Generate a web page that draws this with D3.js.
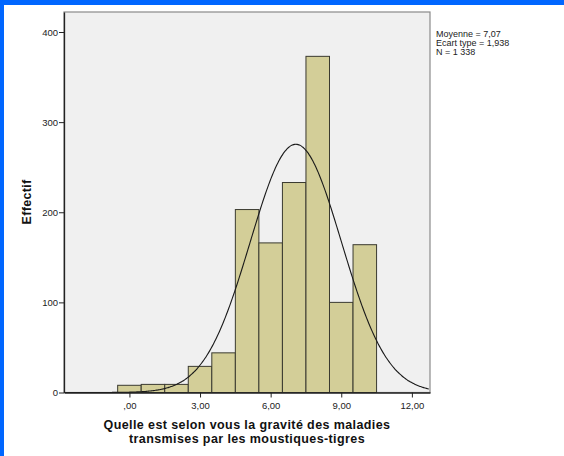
<!DOCTYPE html>
<html><head><meta charset="utf-8">
<script src="https://cdn.jsdelivr.net/npm/d3@7"></script>
<style>
body{margin:0;background:#fff;}
svg text{font-family:"Liberation Sans",Arial,sans-serif;}
</style></head>
<body>
<svg id="c" width="564" height="456"></svg>
<script>
// Data
const binCenters = [0,1,2,3,4,5,6,7,8,9,10];
const counts = [8,9,9,29,44,203,166,233,373,100,164];
const xTicks = [0,3,6,9,12];
const xTickLabels = [",00","3,00","6,00","9,00","12,00"];
const yTicks = [0,100,200,300,400];
const statLines = ["Moyenne = 7,07","Ecart type = 1,938","N = 1 338"];
const mean = 7.07, sd = 1.938, n = 1338, binWidth = 1;
const xTitle = ["Quelle est selon vous la gravité des maladies","transmises par les moustiques-tigres"];
const yTitle = "Effectif";

const svg = d3.select("#c");
// blue window border
svg.append("rect").attr("x",0).attr("y",0).attr("width",564).attr("height",5).attr("fill","#0066ff");
svg.append("rect").attr("x",0).attr("y",0).attr("width",4).attr("height",456).attr("fill","#0066ff");

const L=64, R=430, T=12, B=392.5;
const x = d3.scaleLinear().domain([-2.78,12.77]).range([L,R]);
const y = d3.scaleLinear().domain([0,422.2]).range([B,T]);

svg.append("rect").attr("x",L).attr("y",T).attr("width",R-L).attr("height",B-T)
  .attr("fill","#f0f0f0").attr("stroke","#8a8a8a").attr("stroke-width",1.2);

svg.append("g").selectAll("rect").data(binCenters).join("rect")
  .attr("x",d=>x(d-binWidth/2)).attr("width",d=>x(d+binWidth/2)-x(d-binWidth/2))
  .attr("y",(d,i)=>y(counts[i])).attr("height",(d,i)=>B-y(counts[i]))
  .attr("fill","#d3ce98").attr("stroke","#3a3a30").attr("stroke-width",1);

// normal curve from the stated mean, sd and N
const xs = d3.range(-2.78,12.77,0.05);
const pdf = v => n*binWidth/(sd*Math.sqrt(2*Math.PI))*Math.exp(-0.5*((v-mean)/sd)**2);
svg.append("path").datum(xs)
  .attr("d",d3.line().x(d=>x(d)).y(d=>y(pdf(d))).curve(d3.curveBasis))
  .attr("fill","none").attr("stroke","#1a1a1a").attr("stroke-width",1.1);

// axes
const xAxis = d3.axisBottom(x).tickValues(xTicks).tickSize(5).tickSizeOuter(0)
  .tickFormat((d,i)=>xTickLabels[i]);
const gx = svg.append("g").attr("transform",`translate(0,${B})`).call(xAxis);
gx.select(".domain").attr("stroke","#222").attr("stroke-width",1.3);
gx.selectAll("line").attr("stroke","#222");
gx.selectAll("text").attr("font-size",9.5).attr("fill","#222").attr("dy","0.85em");

const yAxis = d3.axisLeft(y).tickValues(yTicks).tickSize(5).tickSizeOuter(0);
const gy = svg.append("g").attr("transform",`translate(${L},0)`).call(yAxis);
gy.select(".domain").attr("stroke","#222").attr("stroke-width",1.3);
gy.selectAll("line").attr("stroke","#222");
gy.selectAll("text").attr("font-size",9.5).attr("fill","#222").attr("x",-6);

// titles
svg.append("text").attr("transform","translate(31,202) rotate(-90)")
  .attr("text-anchor","middle").attr("font-weight","bold").attr("font-size",12.5)
  .attr("letter-spacing",0.3).attr("fill","#111").text(yTitle);
svg.append("g").selectAll("text").data(xTitle).join("text")
  .attr("x",247).attr("y",(d,i)=>429+i*14).attr("text-anchor","middle")
  .attr("font-weight","bold").attr("font-size",12.5).attr("letter-spacing",0.4)
  .attr("fill","#111").text(d=>d);

// stats box text
svg.append("g").selectAll("text").data(statLines).join("text")
  .attr("x",436).attr("y",(d,i)=>37+i*9.2).attr("font-size",9).attr("fill","#222")
  .text(d=>d);
</script>
</body></html>
